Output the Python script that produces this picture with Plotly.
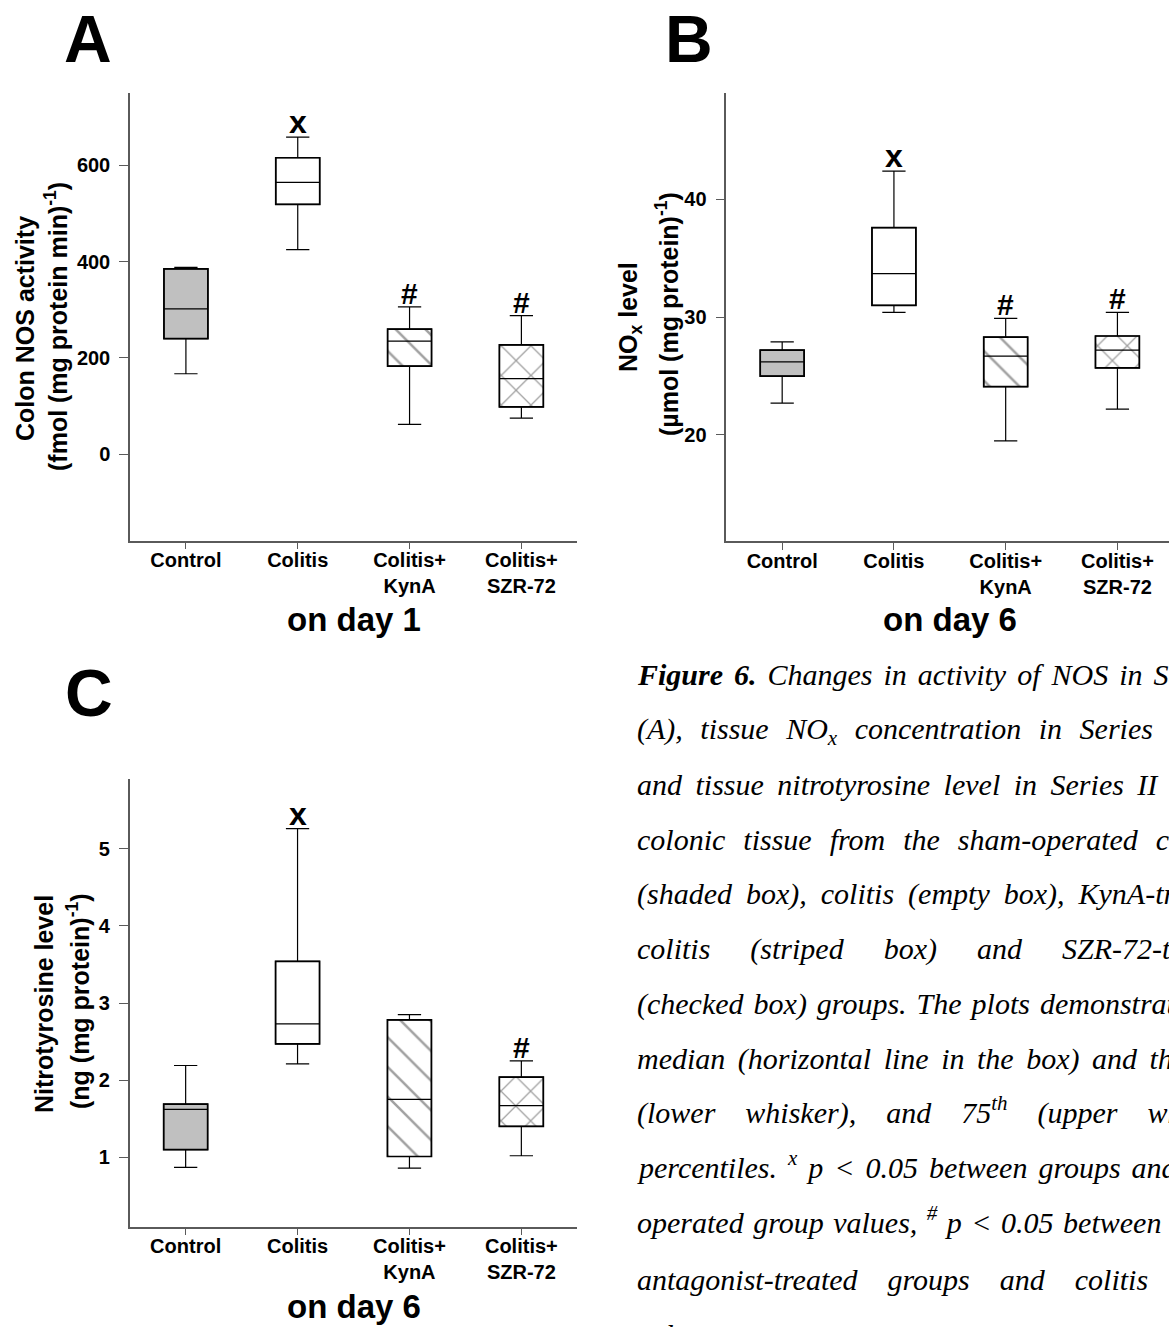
import plotly.graph_objects as go

W, H = 1169, 1327


def px(x):
    return x / W


def py(y):
    return 1 - y / H


# ---------------- data ----------------
groups = ["Control", "Colitis", "Colitis+<br>KynA", "Colitis+<br>SZR-72"]
xpos = [0, 1, 2, 3]
fills = ["#c0c0c0", "white", "white", "white"]
patterns = ["", "", "\\", "x"]

# Panel A: colon NOS activity, day 1
a_low = [167, 425, 62, 75]
a_q1 = [240, 519, 183, 98]
a_med = [302, 565, 235, 157]
a_q3 = [385, 616, 260, 227]
a_high = [388, 659, 306, 288]
a_marks = ["", "x", "#", "#"]

# Panel B: NOx level, day 6
b_low = [22.7, 30.4, 19.5, 22.2]
b_q1 = [25.0, 31.0, 24.1, 25.7]
b_med = [26.2, 33.7, 26.7, 27.2]
b_q3 = [27.2, 37.6, 28.3, 28.4]
b_high = [27.9, 42.4, 29.9, 30.4]
b_marks = ["", "x", "#", "#"]

# Panel C: nitrotyrosine level, day 6
c_low = [0.87, 2.21, 0.86, 1.02]
c_q1 = [1.10, 2.47, 1.01, 1.40]
c_med = [1.62, 2.73, 1.75, 1.67]
c_q3 = [1.69, 3.54, 2.78, 2.04]
c_high = [2.19, 5.26, 2.85, 2.25]
c_marks = ["", "x", "", "#"]

a_ticks = [0, 200, 400, 600]
b_ticks = [20, 30, 40]
c_ticks = [1, 2, 3, 4, 5]

caption_lines = [
    "<b>Figure 6.</b> Changes in activity of NOS in Series",
    "(A), tissue NO<sub>x</sub> concentration in Series II",
    "and tissue nitrotyrosine level in Series II",
    "colonic tissue from the sham-operated control",
    "(shaded box), colitis (empty box), KynA-treated",
    "colitis (striped box) and SZR-72-treated",
    "(checked box) groups. The plots demonstrate",
    "median (horizontal line in the box) and the",
    "(lower whisker), and 75<sup>th</sup> (upper whisker)",
    "percentiles. <sup>x</sup> p &lt; 0.05 between groups and",
    "operated group values, <sup>#</sup> p &lt; 0.05 between NMDA",
    "antagonist-treated groups and colitis group",
    "values.",
]
caption_extra_space = [3.5, 10, 6, 10.5, 6.5, 32.5, 2.5, 5, 22.5, 3.5, 2, 22.5, 0]
caption_yfix = [0, 2, 0, 0, 0, 0, 0, 0, -4, -4, -4, 0, 0]

SANS = "Liberation Sans, Arial, sans-serif"
SERIF = "Liberation Serif, Times New Roman, serif"
AXC = "#5a5a5a"

fig = go.Figure()

panels = [
    ("x", "y", a_low, a_q1, a_med, a_q3, a_high, a_marks),
    ("x2", "y2", b_low, b_q1, b_med, b_q3, b_high, b_marks),
    ("x3", "y3", c_low, c_q1, c_med, c_q3, c_high, c_marks),
]

BW = 0.393
annotations = []
for xa, ya, lo, q1, med, q3, hi, marks in panels:
    fig.add_trace(go.Bar(
        x=xpos, base=q1, y=[b - a for a, b in zip(q1, q3)],
        width=BW, xaxis=xa, yaxis=ya,
        marker=dict(color=fills, line=dict(color="black", width=1.7),
                    pattern=dict(shape=patterns, fgcolor="black", bgcolor="white",
                                 size=21, solidity=0.12)),
        showlegend=False, hoverinfo="skip",
    ))
    fig.add_trace(go.Box(
        x=xpos, q1=q1, median=med, q3=q3, lowerfence=lo, upperfence=hi,
        width=BW, whiskerwidth=0.53, xaxis=xa, yaxis=ya,
        fillcolor="rgba(0,0,0,0)", line=dict(color="black", width=1.2),
        boxpoints=False, showlegend=False, hoverinfo="skip",
    ))
    for xi, yi, m in zip(xpos, hi, marks):
        if m:
            annotations.append(dict(
                x=xi, y=yi, xref=xa, yref=ya, text=m, showarrow=False,
                xanchor="center", yanchor="bottom", yshift=-5,
                font=dict(family=SANS, size=32 if m == "x" else 30, color="black", weight="bold"),
            ))

tickfont = dict(family=SANS, size=20, color="black", weight="bold")
xcommon = dict(type="linear", tickvals=xpos, ticktext=groups, showgrid=False, zeroline=False,
               showline=True, linecolor=AXC, linewidth=1.5, ticks="outside", ticklen=7,
               tickwidth=1.3, tickcolor=AXC, tickfont=tickfont, ticklabelstandoff=-6)
ycommon = dict(showgrid=False, zeroline=False, showline=True, linecolor=AXC, linewidth=1.5,
               ticks="outside", ticklen=9, tickwidth=1.3, tickcolor=AXC, tickfont=tickfont,
               ticklabelstandoff=5)

fig.update_layout(
    width=W, height=H, margin=dict(l=0, r=0, t=0, b=0),
    paper_bgcolor="white", plot_bgcolor="white", showlegend=False,
    xaxis=dict(domain=[px(130), px(577.3)], range=[-0.5, 3.5], anchor="y", **xcommon),
    yaxis=dict(domain=[py(540.7), py(93.3)], range=[-180, 750], anchor="x",
               tickvals=a_ticks, **ycommon),
    xaxis2=dict(domain=[px(726.3), 1.0], range=[-0.5, -0.5 + 4 * (W - 726.3) / 447.0],
                anchor="y2", **xcommon),
    yaxis2=dict(domain=[py(541), py(93.3)], range=[11, 49], anchor="x2",
                tickvals=b_ticks, **ycommon),
    xaxis3=dict(domain=[px(129.7), px(577.3)], range=[-0.5, 3.5], anchor="y3", **xcommon),
    yaxis3=dict(domain=[py(1226.7), py(779.3)], range=[0.1, 5.9], anchor="x3",
                tickvals=c_ticks, **ycommon),
)


def ann(text, x, y, size, xanchor="center", yanchor="middle", angle=0, family=SANS,
        weight="bold", style="normal"):
    annotations.append(dict(
        x=px(x), y=py(y), xref="paper", yref="paper", text=text, showarrow=False,
        xanchor=xanchor, yanchor=yanchor, textangle=angle,
        font=dict(family=family, size=size, color="black", weight=weight, style=style),
    ))


# panel letters
ann("A", 62, 78, 66, xanchor="left", yanchor="bottom")
ann("B", 663, 78, 66, xanchor="left", yanchor="bottom")
ann("C", 63, 732, 66, xanchor="left", yanchor="bottom")

# y-axis titles
ann("Colon NOS activity", 25, 329, 25, angle=-90)
ann("(fmol (mg protein min)<sup>-1</sup>)", 56, 327, 25, angle=-90)
ann("NO<sub>x</sub> level", 630, 317, 25, angle=-90)
ann("(µmol (mg protein)<sup>-1</sup>)", 667, 314, 25, angle=-90)
ann("Nitrotyrosine level", 44, 1004, 25, angle=-90)
ann("(ng (mg protein)<sup>-1</sup>)", 78, 1001, 25, angle=-90)

# day labels
ann("on day 1", 353.5, 640, 33, yanchor="bottom")
ann("on day 6", 949.5, 640, 33, yanchor="bottom")
ann("on day 6", 353.5, 1327, 33, yanchor="bottom")

# caption
for k, (line, extra, fix) in enumerate(zip(caption_lines, caption_extra_space, caption_yfix)):
    base = 684.3 + 55 * k
    txt = '<span style="word-spacing:%.1fpx">%s</span>' % (extra, line)
    ann(txt, 635, base - 10.1 + fix, 30, xanchor="left", yanchor="middle",
        family=SERIF, weight="normal", style="italic")

fig.update_layout(annotations=annotations)
fig.write_html("out.html")
